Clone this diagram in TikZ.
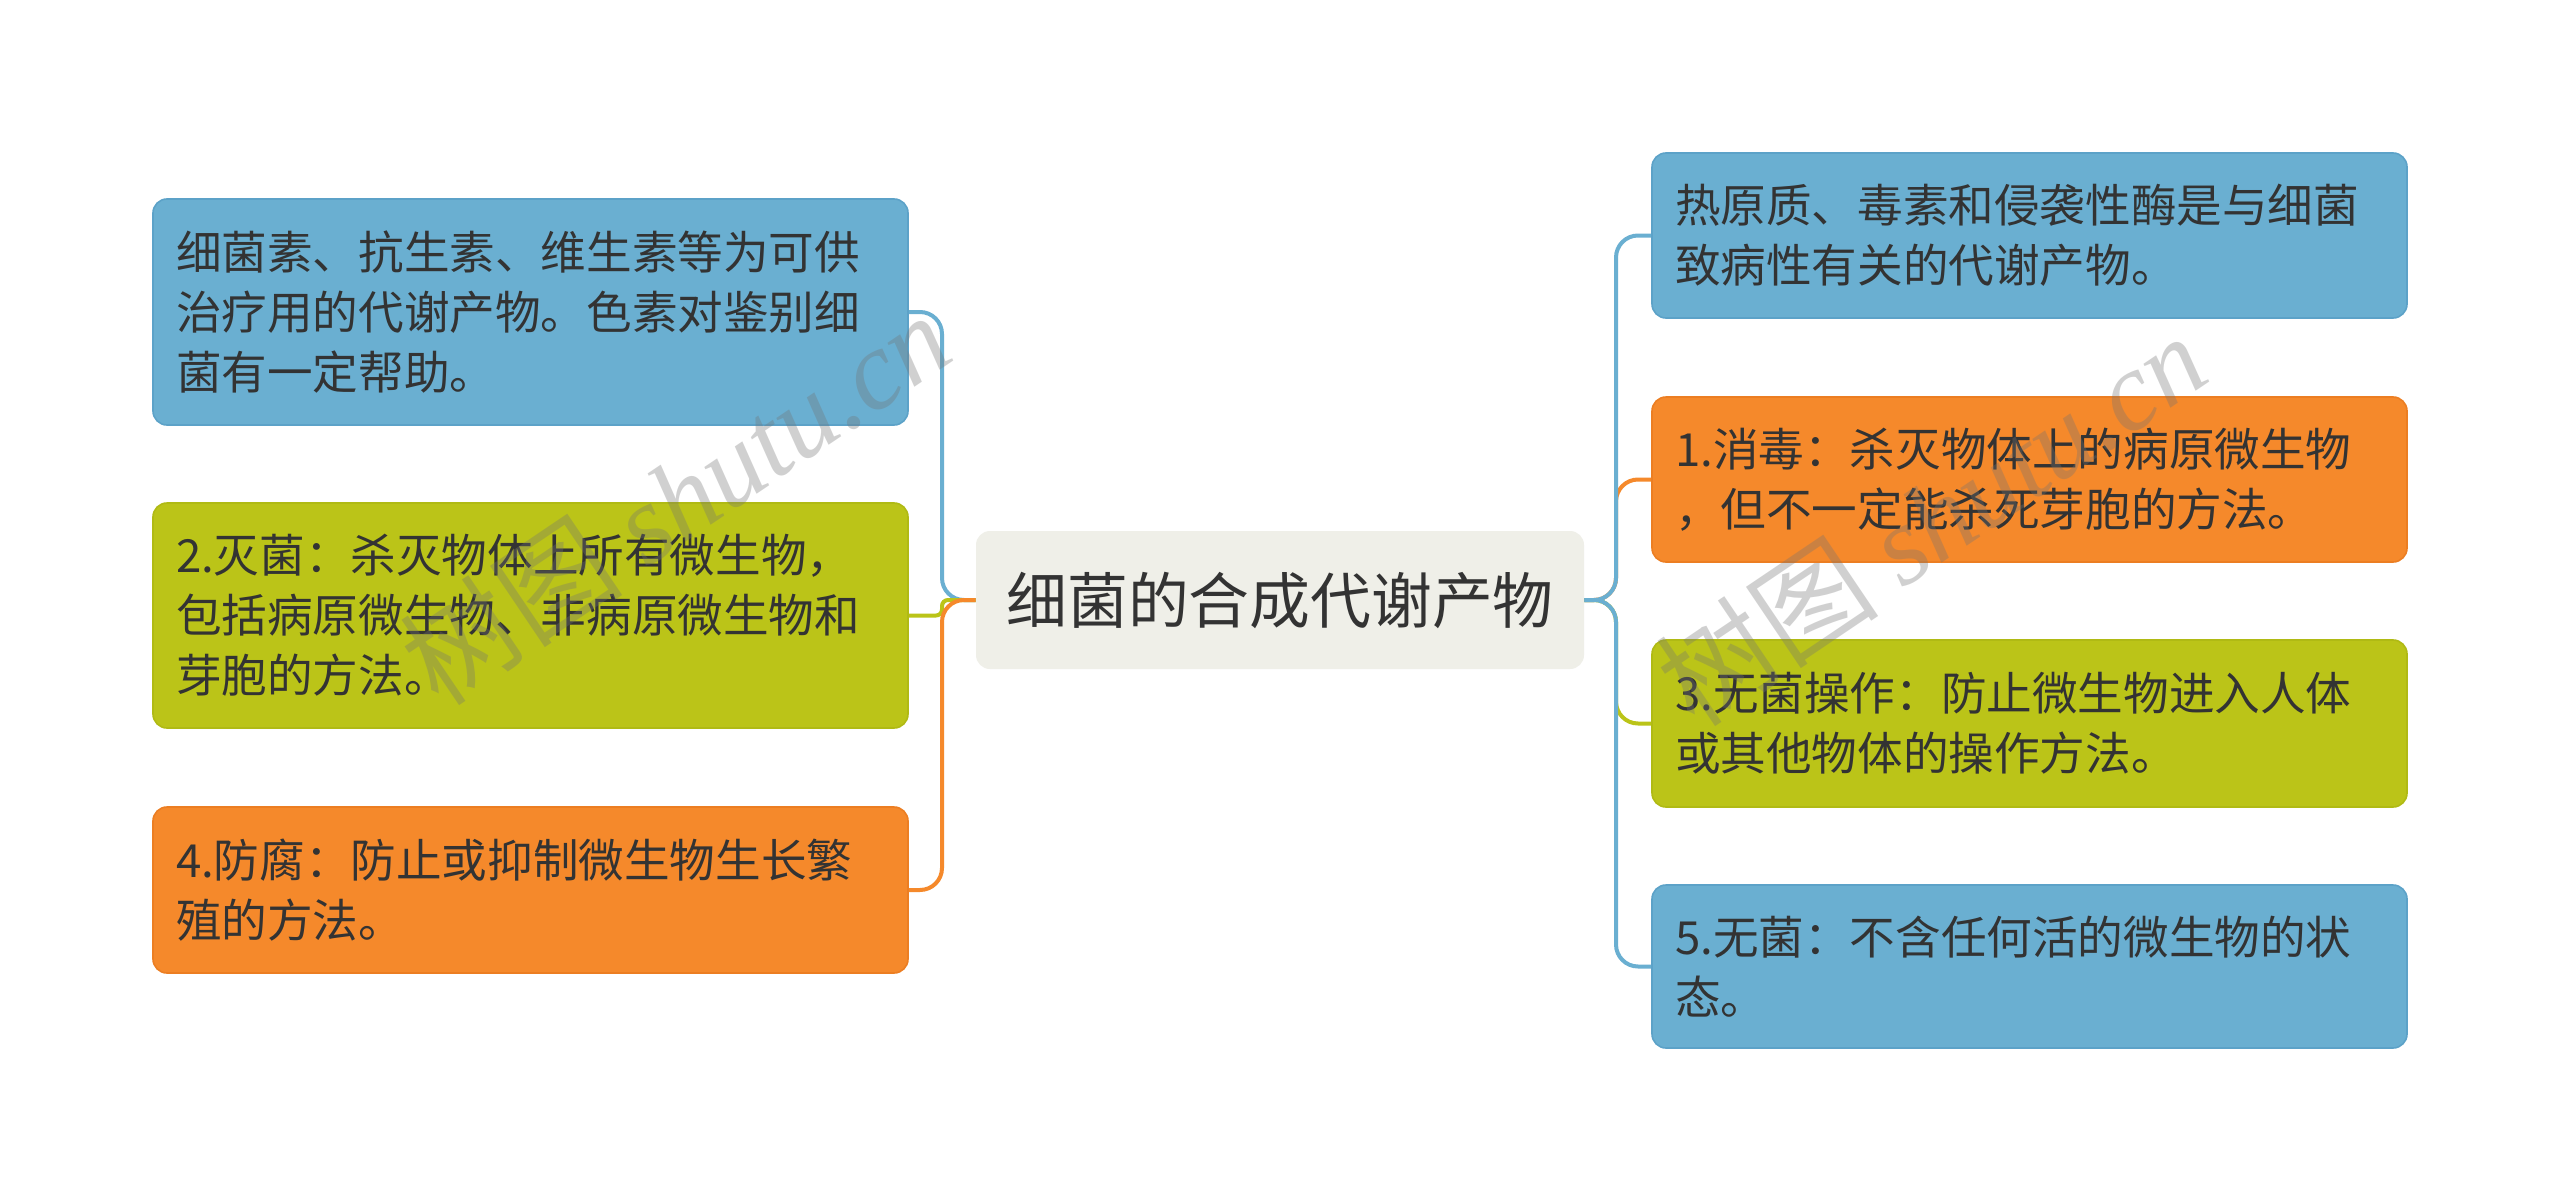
\documentclass[tikz,border=0pt]{standalone}
\usepackage{fontspec}
\setmainfont{Noto Sans CJK SC}
\newfontfamily\wmcjk{Noto Sans CJK SC}
\newfontfamily\wmlat{Liberation Serif}
\definecolor{cblue}{RGB}{106,175,209}
\definecolor{cblueD}{RGB}{92,162,200}
\definecolor{corange}{RGB}{245,137,43}
\definecolor{corangeD}{RGB}{236,126,34}
\definecolor{cgreen}{RGB}{187,196,24}
\definecolor{cgreenD}{RGB}{176,186,20}
\definecolor{ccenter}{RGB}{239,239,232}
\definecolor{ctext}{RGB}{51,51,51}
\begin{document}
\begin{tikzpicture}[x=0.5pt,y=-0.5pt,
  box/.style={rounded corners=7pt, minimum width=377.5pt, text width=354.5pt,
    inner xsep=11.5pt, inner ysep=0pt, align=left,
    font=\fontsize{22.8}{30}\selectfont, text=ctext, line width=0.8pt},
  conn/.style={line width=2pt, rounded corners=11pt},
  wm/.style={rotate=34, text=black!55, opacity=0.33, font=\fontsize{56}{56}\selectfont}]
\fill[white] (0,0) rectangle (2560,1204);
\useasboundingbox (0,0) rectangle (2560,1204);

% center
\node[rounded corners=7pt, fill=ccenter, minimum width=304pt, minimum height=69pt,
  inner sep=0pt, text=ctext, font=\fontsize{30.4}{36}\selectfont] (C) at (1280,600) {细菌的合成代谢产物};

% left
\node[box, fill=cblue, draw=cblueD, minimum height=113pt] (L1) at (530.5,312)
  {细菌素、抗生素、维生素等为可供\\治疗用的代谢产物。色素对鉴别细\\菌有一定帮助。};
\node[box, fill=cgreen, draw=cgreenD, minimum height=112.5pt] (L2) at (530.5,615.5)
  {2.灭菌：杀灭物体上所有微生物，\\包括病原微生物、非病原微生物和\\芽胞的方法。};
\node[box, fill=corange, draw=corangeD, minimum height=83pt] (L3) at (530.5,890)
  {4.防腐：防止或抑制微生物生长繁\\殖的方法。};

% right
\node[box, fill=cblue, draw=cblueD, minimum height=82.5pt] (R1) at (2029.5,235.5)
  {热原质、毒素和侵袭性酶是与细菌\\致病性有关的代谢产物。};
\node[box, fill=corange, draw=corangeD, minimum height=82.5pt] (R2) at (2029.5,479.5)
  {1.消毒：杀灭物体上的病原微生物\\，但不一定能杀死芽胞的方法。};
\node[box, fill=cgreen, draw=cgreenD, minimum height=83.5pt] (R3) at (2029.5,723.5)
  {3.无菌操作：防止微生物进入人体\\或其他物体的操作方法。};
\node[box, fill=cblue, draw=cblueD, minimum height=81.5pt] (R4) at (2029.5,966.5)
  {5.无菌：不含任何活的微生物的状\\态。};

% connectors
\coordinate (lt) at (942,600);
\coordinate (rt) at (1616,600);
\draw[conn, cblue] (C.west) -- (lt) |- (L1.east);
\draw[conn, cgreen, rounded corners=3pt] (C.west) -- (lt) |- (L2.east);
\draw[conn, corange] (C.west) -- (lt) |- (L3.east);
\draw[conn, corange] (C.east) -- (rt) |- (R2.west);
\draw[conn, cgreen] (C.east) -- (rt) |- (R3.west);
\draw[conn, cblue] (C.east) -- (rt) |- (R1.west);
\draw[conn, cblue] (C.east) -- (rt) |- (R4.west);

% watermark
\node[wm] (wm1) at (675,498) {{\wmcjk 树图} {\wmlat\itshape shutu.cn}};
\node[wm] (wm2) at (1931,519) {{\wmcjk 树图} {\wmlat\itshape shutu.cn}};
\end{tikzpicture}
\end{document}
